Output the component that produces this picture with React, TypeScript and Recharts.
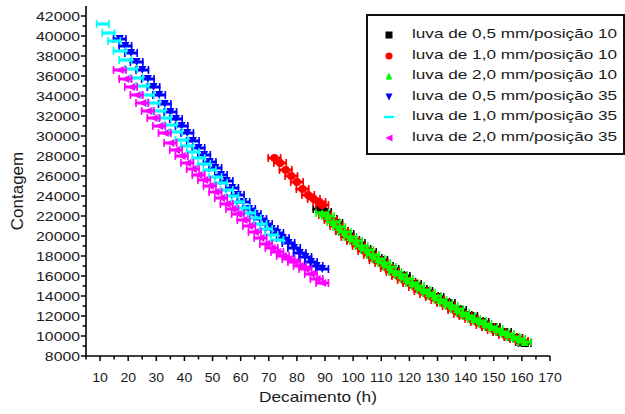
import React from "react";
import { ScatterChart, Scatter, XAxis, YAxis } from "recharts";

// values (x = Decaimento em h, y = Contagem)
const P05_10: [number, number][] = [
  [88, 22700], [90, 22400], [92, 21700], [94, 21300], [96, 20500], [98, 20200], [100, 19600],
  [102, 19300], [104, 18700], [106, 18400], [108, 17800], [110, 17600], [112, 17000], [114, 16700],
  [116, 16100], [118, 16000], [120, 15400], [122, 15200], [124, 14700], [126, 14500], [128, 14000],
  [130, 13900], [132, 13400], [134, 13300], [136, 12700], [138, 12600], [140, 12100], [142, 12000],
  [144, 11500], [146, 11400], [148, 10900], [150, 10900], [152, 10400], [154, 10400], [156, 9900],
  [158, 9800], [160, 9400], [161, 9300],
];
const P10_10: [number, number][] = [
  [72, 27800], [74, 27300], [76, 26600], [78, 26000], [80, 25400], [82, 24700], [84, 24100],
  [86, 23700], [88, 23400], [89, 23100], [90, 22100], [92, 21600], [94, 21000], [96, 20500],
  [98, 19900], [100, 19500], [102, 19000], [104, 18500], [106, 18100], [108, 17600], [110, 17300],
  [112, 16800], [114, 16400], [116, 16000], [118, 15600], [120, 15300], [122, 14900], [124, 14500],
  [126, 14200], [128, 13900], [130, 13600], [132, 13300], [134, 13000], [136, 12600], [138, 12200],
  [140, 12000], [142, 11700], [144, 11400], [146, 11100], [148, 10900], [150, 10600], [152, 10400],
  [154, 10100], [156, 9900], [158, 9700], [160, 9500],
];
const P20_10: [number, number][] = [
  [89, 22300], [91, 22000], [93, 21400], [95, 20900], [97, 20400], [99, 19900], [101, 19500],
  [103, 19000], [105, 18600], [107, 18100], [109, 17700], [111, 17300], [113, 16900], [115, 16400],
  [117, 16100], [119, 15700], [121, 15300], [123, 15000], [125, 14600], [127, 14300], [129, 14000],
  [131, 13600], [133, 13300], [135, 13000], [137, 12700], [139, 12300], [141, 12000], [143, 11700],
  [145, 11500], [147, 11200], [149, 10900], [151, 10700], [153, 10400], [155, 10200], [157, 9900],
  [159, 9700], [161, 9400],
];
const P05_35: [number, number][] = [
  [17, 39700], [19, 39000], [21, 38300], [23, 37400], [25, 36600], [27, 35700], [29, 34900],
  [31, 34100], [33, 33200], [35, 32400], [37, 31700], [39, 31000], [41, 30300], [43, 29500],
  [45, 28800], [47, 28100], [49, 27400], [51, 26800], [53, 26100], [55, 25500], [57, 24800],
  [59, 24100], [61, 23400], [63, 22700], [65, 22200], [67, 21700], [69, 21200], [71, 20700],
  [73, 20300], [75, 19800], [77, 19300], [79, 18800], [81, 18300], [83, 17900], [85, 17400],
  [87, 17000], [89, 16700],
];
const P10_35: [number, number][] = [
  [11, 41200], [13, 40300], [15, 39500], [17, 38500], [19, 37600], [21, 36700], [23, 35800],
  [25, 35000], [27, 34100], [29, 33300], [31, 32500], [33, 31800], [35, 31100], [37, 30400],
  [39, 29600], [41, 29000], [43, 28400], [45, 27800], [47, 27200], [49, 26600], [51, 25900],
  [53, 25300], [55, 24600], [57, 24000], [59, 23400], [61, 22800], [63, 22300], [65, 21800],
  [67, 21200], [69, 20700], [71, 20100], [73, 19600],
];
const P20_35: [number, number][] = [
  [17, 36600], [19, 35700], [21, 34900], [23, 34100], [25, 33300], [27, 32500], [29, 31800],
  [31, 31000], [33, 30300], [35, 29300], [37, 28600], [39, 28000], [41, 27300], [43, 26700],
  [45, 26100], [47, 25600], [49, 25000], [51, 24400], [53, 23800], [55, 23200], [57, 22700],
  [59, 22200], [61, 21600], [63, 21000], [65, 20400], [67, 19800], [69, 19200], [71, 18800],
  [73, 18400], [75, 18000], [77, 17700], [79, 17400], [81, 17000], [83, 16700], [85, 16200],
  [87, 15700], [89, 15300],
];

const X_TICKS = [5, 10, 15, 20, 25, 30, 35, 40, 45, 50, 55, 60, 65, 70, 75, 80, 85, 90, 95, 100,
  105, 110, 115, 120, 125, 130, 135, 140, 145, 150, 155, 160, 165, 170];
const Y_TICKS = [8000, 9000, 10000, 11000, 12000, 13000, 14000, 15000, 16000, 17000, 18000, 19000,
  20000, 21000, 22000, 23000, 24000, 25000, 26000, 27000, 28000, 29000, 30000, 31000, 32000, 33000,
  34000, 35000, 36000, 37000, 38000, 39000, 40000, 41000, 42000];

type Marker = "square" | "circle" | "up" | "down" | "dash" | "left";

const SERIES: { name: string; data: [number, number][]; color: string; marker: Marker }[] = [
  { name: "luva de 0,5 mm/posição 10", data: P05_10, color: "#000000", marker: "square" },
  { name: "luva de 1,0 mm/posição 10", data: P10_10, color: "#ff0000", marker: "circle" },
  { name: "luva de 2,0 mm/posição 10", data: P20_10, color: "#00ff00", marker: "up" },
  { name: "luva de 0,5 mm/posição 35", data: P05_35, color: "#0000ff", marker: "down" },
  { name: "luva de 1,0 mm/posição 35", data: P10_35, color: "#00ffff", marker: "dash" },
  { name: "luva de 2,0 mm/posição 35", data: P20_35, color: "#ff00ff", marker: "left" },
];

const FONT = "Arial, 'Liberation Sans', Helvetica, sans-serif";
const INK = "#1a1a1a";

function Symbol({ cx, cy, s, color, marker }: { cx: number; cy: number; s: number; color: string; marker: Marker }) {
  switch (marker) {
    case "square":
      return <rect x={cx - s / 2} y={cy - s / 2} width={s} height={s} fill={color} />;
    case "circle":
      return <circle cx={cx} cy={cy} r={s / 2} fill={color} />;
    case "up":
      return <polygon points={`${cx - s / 2},${cy + s / 2} ${cx + s / 2},${cy + s / 2} ${cx},${cy - s / 2}`} fill={color} />;
    case "down":
      return <polygon points={`${cx - s / 2},${cy - s / 2} ${cx + s / 2},${cy - s / 2} ${cx},${cy + s / 2}`} fill={color} />;
    case "left":
      return <polygon points={`${cx + s / 2},${cy - s / 2} ${cx + s / 2},${cy + s / 2} ${cx - s / 2},${cy}`} fill={color} />;
    default:
      return <rect x={cx - s / 2 - 1} y={cy - 1.2} width={s + 2} height={2.4} fill={color} />;
  }
}

// point with its horizontal error bar
function makeShape(color: string, marker: Marker) {
  return (props: any) => {
    const { cx, cy } = props;
    if (cx == null || cy == null) return <g />;
    return (
      <g>
        <rect x={cx - 7} y={cy - 1.5} width={14} height={3} fill={color} />
        <rect x={cx - 7} y={cy - 4} width={1.6} height={8} fill={color} />
        <rect x={cx + 5.4} y={cy - 4} width={1.6} height={8} fill={color} />
        <Symbol cx={cx} cy={cy} s={8} color={color} marker={marker} />
      </g>
    );
  };
}

const XTick = (props: any) => {
  const { x, y, payload } = props;
  const v = payload.value;
  const major = v % 10 === 0;
  return (
    <g>
      <line x1={x} x2={x} y1={y} y2={y + (major ? 5 : 3.5)} stroke="#000" strokeWidth={1.5} />
      {major && (
        <text transform={`translate(${x},${y + 26}) scale(1.04,1)`} textAnchor="middle" fontSize={13.5} fontFamily={FONT} fill={INK}>
          {v}
        </text>
      )}
    </g>
  );
};

const YTick = (props: any) => {
  const { x, y, payload } = props;
  const v = payload.value;
  const major = v % 2000 === 0;
  return (
    <g>
      <line x1={x} x2={x - (major ? 5 : 3.5)} y1={y} y2={y} stroke="#000" strokeWidth={1.5} />
      {major && (
        <text transform={`translate(${x - 6},${y + 4.8}) scale(1.17,1)`} textAnchor="end" fontSize={13.5} fontFamily={FONT} fill={INK}>
          {v}
        </text>
      )}
    </g>
  );
};

function LegendBox() {
  return (
    <div
      style={{
        position: "absolute",
        left: 366,
        top: 14,
        width: 255,
        height: 137,
        border: "2px solid #111",
        background: "#fff",
        fontFamily: FONT,
        fontSize: 13,
        color: INK,
        boxSizing: "content-box",
      }}
    >
      {SERIES.map((s, i) => (
        <div key={s.name} style={{ position: "absolute", left: 0, top: 9 + i * 20.6, height: 20, width: 255 }}>
          <svg width={14} height={14} style={{ position: "absolute", left: 14, top: 3 }}>
            <Symbol cx={7} cy={7} s={s.marker === "dash" ? 8 : 7} color={s.color} marker={s.marker} />
          </svg>
          <span
            style={{
              position: "absolute",
              left: 44,
              top: 1,
              whiteSpace: "nowrap",
              transform: "scaleX(1.32)",
              transformOrigin: "left center",
            }}
          >
            {s.name}
          </span>
        </div>
      ))}
    </div>
  );
}

export default function App() {
  return (
    <div style={{ position: "absolute", left: 0, top: 0, width: 625, height: 414, background: "#fff" }}>
      <ScatterChart width={625} height={414} margin={{ top: 6, right: 75, bottom: 0, left: 0 }}>
        <XAxis
          type="number"
          dataKey="x"
          domain={[5, 170]}
          ticks={X_TICKS}
          interval={0}
          height={58}
          tickSize={0}
          tickMargin={0}
          tickLine={false}
          axisLine={{ stroke: "#000", strokeWidth: 1.6 }}
          tick={<XTick />}
        />
        <YAxis
          type="number"
          dataKey="y"
          domain={[8000, 43000]}
          ticks={Y_TICKS}
          interval={0}
          width={86}
          tickSize={0}
          tickMargin={0}
          tickLine={false}
          axisLine={{ stroke: "#000", strokeWidth: 1.6 }}
          tick={<YTick />}
        />
        {SERIES.map((s) => (
          <Scatter
            key={s.name}
            name={s.name}
            data={s.data.map(([x, y]) => ({ x, y }))}
            fill={s.color}
            shape={makeShape(s.color, s.marker)}
            isAnimationActive={false}
          />
        ))}
      </ScatterChart>
      <LegendBox />
      <div
        style={{
          position: "absolute",
          left: 318,
          top: 388,
          transform: "translateX(-50%) scaleX(1.15)",
          fontFamily: FONT,
          fontSize: 15,
          color: INK,
          whiteSpace: "nowrap",
        }}
      >
        Decaimento (h)
      </div>
      <div
        style={{
          position: "absolute",
          left: 18,
          top: 191,
          transform: "translate(-50%, -50%) rotate(-90deg)",
          fontFamily: FONT,
          fontSize: 17,
          color: INK,
          whiteSpace: "nowrap",
        }}
      >
        Contagem
      </div>
    </div>
  );
}
